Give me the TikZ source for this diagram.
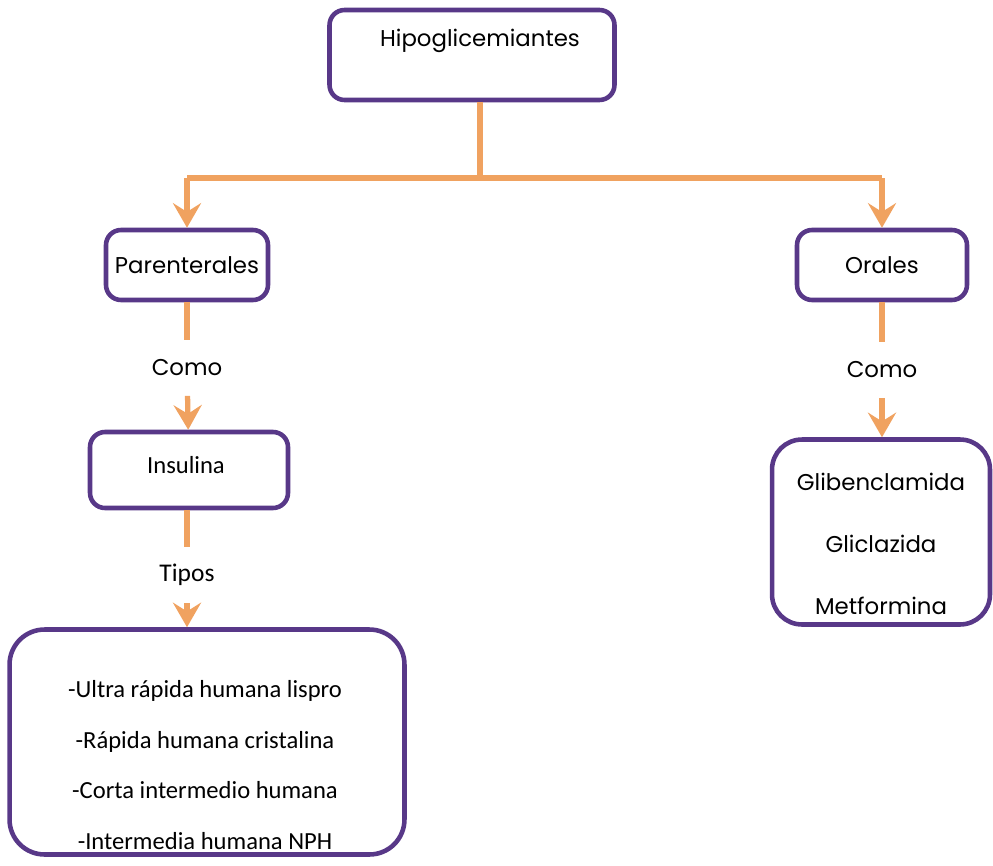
\documentclass[tikz,border=0pt]{standalone}
\usepackage{fontspec}
\setmainfont{Poppins}
\newfontfamily\calibri{Carlito}
\usetikzlibrary{arrows.meta}
\definecolor{boxpurple}{RGB}{88,56,136}
\definecolor{linkorange}{RGB}{240,162,96}
\begin{document}
\begin{tikzpicture}[x=0.02cm,y=-0.02cm]
      \tikzset{box/.style={draw=boxpurple,line width=2.6pt,rounded corners=0.3cm,inner sep=0pt}}
      \tikzset{link/.style={draw=linkorange,line width=3pt}}
      \tikzset{arrow/.style={link,-{Stealth[length=14pt,width=16pt,inset=5pt]}}}
      \tikzset{word/.style={font=\fontsize{13}{15}\selectfont,minimum height=1.1cm,inner sep=0pt}}
      \useasboundingbox (0,0) rectangle (993,865);
      % boxes
      \node[box,minimum width=5.7cm,minimum height=1.8cm] (hipo) at (472,55) {};
      \node[font=\fontsize{13}{15}\selectfont] (hipotext) at (480,41) {Hipoglicemiantes};
      \node[box,minimum width=3.24cm,minimum height=1.4cm,font=\fontsize{13}{15}\selectfont] (par) at (187,265) {Parenterales};
      \node[box,minimum width=3.4cm,minimum height=1.4cm,font=\fontsize{13}{15}\selectfont] (ora) at (882,265) {Orales};
      \node[box,minimum width=3.96cm,minimum height=1.52cm] (ins) at (189,470) {};
      \node[font=\calibri\fontsize{14}{16}\selectfont] (instext) at (186,465) {Insulina};
      \node[box,rounded corners=0.7cm,minimum width=7.9cm,minimum height=4.5cm] (tip) at (207,742) {};
      \node[align=center,font=\calibri\fontsize{14}{16}\selectfont] (tiptext) at (205,765)
            {-Ultra rápida humana lispro\\[0.45cm]-Rápida humana cristalina\\[0.45cm]-Corta intermedio humana\\[0.45cm]-Intermedia humana NPH};
      \node[box,rounded corners=0.6cm,minimum width=4.36cm,minimum height=3.7cm] (glib) at (881,532) {};
      \node[align=center,font=\fontsize{13}{15}\selectfont] (glibtext) at (881,544)
            {Glibenclamida\\[0.72cm]Gliclazida\\[0.72cm]Metformina};
      % words on the links
      \node[word] (como1) at (187,368) {Como};
      \node[word,font=\calibri\fontsize{14.5}{16}\selectfont] (tipos) at (187,575) {Tipos};
      \node[word] (como2) at (882,370) {Como};
      % links
      \coordinate (split) at (480,178);
      \draw[link] (hipo.south -| split) -- (split);
      \draw[link] (par.north |- split) -- (ora.north |- split);
      \draw[arrow] (par.north |- split) -- (par);
      \draw[arrow] (ora.north |- split) -- (ora);
      \draw[link] (par) -- (como1);
      \draw[arrow] (como1) -- (ins);
      \draw[link] (ins.south -| tipos) -- (tipos);
      \draw[arrow] (tipos) -- (tipos |- tip.north);
      \draw[link] (ora) -- (como2);
      \draw[arrow] (como2) -- (como2 |- glib.north);
\end{tikzpicture}
\end{document}
